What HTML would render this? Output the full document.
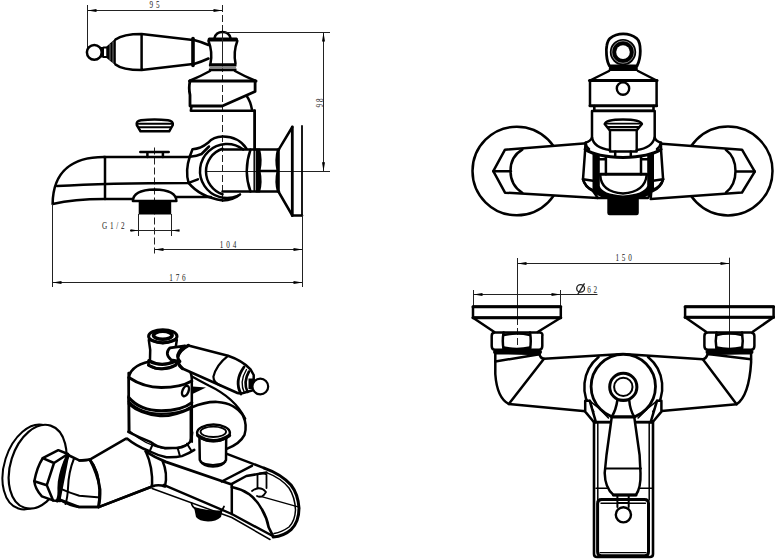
<!DOCTYPE html>
<html><head><meta charset="utf-8">
<style>
html,body{margin:0;padding:0;background:#fff;width:775px;height:559px;overflow:hidden}
svg{display:block;stroke-width:2.5px}
.t{fill:none;stroke:#000;stroke-linecap:round;stroke-linejoin:round}
.w{fill:#fff;stroke:#000;stroke-linecap:round;stroke-linejoin:round}
.m{fill:none;stroke:#000;stroke-linecap:round;stroke-linejoin:round}
.d{fill:none;stroke:#222;stroke-width:1}
.c{fill:none;stroke:#222;stroke-width:1;stroke-dasharray:7 3}
.f{fill:#000;stroke:none}
text{font-family:"Liberation Serif",serif;font-size:10px;fill:#1a1a1a}
</style></head><body>
<svg width="775" height="559" viewBox="0 0 775 559">
<!-- ================= TOP LEFT: side view ================= -->
<g id="tl">
  <!-- dimension 95 -->
  <line class="d" x1="87.5" y1="5" x2="87.5" y2="48"/>
  <line class="d" x1="87.5" y1="10.5" x2="222.5" y2="10.5"/>
  <path class="f" d="M87.5,10.5 l9,-1.5 v3 z M222.5,10.5 l-9,-1.5 v3 z"/>
  <text transform="translate(149.5,8.2) scale(0.72,1)" font-size="11.3" letter-spacing="4">95</text>
  <!-- centre lines -->
  <line class="c" x1="222.5" y1="5" x2="222.5" y2="204.5"/>
  <line class="c" x1="154.5" y1="147.5" x2="154.5" y2="253.5"/>
  <!-- tl handle -->
  <circle class="t" stroke-width="2.5" cx="94.3" cy="52.3" r="7.4"/>
  <path class="f" d="M101,47 H104 V57.5 H101 Z"/>
  <path class="t" stroke-width="2" d="M103.5,47.5 H107.5 V57 H103.5"/>
  <path class="f" d="M106.5,46.5 L115.8,38.2 V65.6 L106.5,58 Z"/>
  <path stroke="#999" stroke-width="0.8" d="M110,44 V60.5 M113,41.5 V63"/>
  <path class="t" d="M115.5,39.5 C121,35.5 130,34 141.6,34 L193,40 M115.5,64.5 C121,69 130,70 141.6,70 L193,64 M141.6,34 V70"/>
  <path class="t" stroke-width="3.6" d="M193,38.5 V65.5"/>
  <path class="t" d="M194,40 Q202,42 208.5,45 M194,64 Q202,61.5 208.5,58.5"/>
  <!-- tl cap -->
  <path class="t" d="M214.5,38 Q216,32 222.5,32 Q229,32 230.5,38"/>
  <path class="f" d="M209,37.4 H236.6 Q238.2,37.6 238,39.5 L237.6,41.6 H208 L207.6,39.5 Q207.6,37.6 209,37.4 Z"/>
  <path class="t" d="M208.5,41 Q212.8,52 210.5,63.5 M237.3,41 Q233.2,52 235.5,63.5"/>
  <line stroke="#222" stroke-width="1" x1="222.5" y1="32" x2="222.5" y2="64"/>
  <path class="f" d="M209.5,63.2 H235.8 Q237,64.5 236.4,66.4 H209 Q208.4,64.5 209.5,63.2 Z M209,68.4 H236.4 Q237,70 235.8,71.3 H209.5 Q208.4,70 209,68.4 Z"/>
  <path fill="#888" d="M209.5,66.4 H236 V68.4 H209.5 Z"/>
  <path class="t" d="M210,71 Q200,76.5 190.4,80.5 M235,71 Q245,76.5 254.7,80.5"/>
  <path class="t" stroke-width="3" d="M189.5,81 H256"/>
  <path class="t" stroke-width="2.8" d="M190,81 Q188.5,88 190,95 V106 H222.3 L255.1,91.5 V81"/>
  <path class="t" d="M246.7,95.9 Q250.5,101 252,109.8"/>
  <path class="t" d="M191.5,106.5 L190.8,110.7 H254.6"/>
  <path class="t" stroke-width="2.8" d="M254.6,110.7 V149.5"/>
  <!-- diverter button -->
  <path class="t" d="M140.5,131.3 L136.8,125 Q135.8,121 141,120.2 Q154.5,118.6 168,120.2 Q173.6,121 172.8,125 L169.2,131.3 Z"/>
  <path class="t" stroke-width="2" d="M137.5,123.8 H172 M138.8,127.3 H170.5"/>
  <!-- 98 dimension -->
  <line class="d" x1="225" y1="32.5" x2="330" y2="32.5"/>
  <line class="d" x1="323.5" y1="32.5" x2="323.5" y2="171.5"/>
  <path class="f" d="M323.5,32.5 l-1.5,9 h3 z M323.5,171.3 l-1.5,-9 h3 z"/>
  <text transform="translate(322.8,107.5) rotate(-90) scale(0.72,1)" font-size="13.5" letter-spacing="2.5">98</text>
  <line class="d" x1="205" y1="171.5" x2="330" y2="171.5"/>
  <!-- tl spout -->
  <path class="t" d="M104,157 H190"/>
  <path class="t" d="M104,157 C74,157 53,170 52.6,204 C70,200 85,199 104,199 H133"/>
  <path class="t" d="M105,157 V199"/>
  <path class="t" d="M57,186 C90,184 140,183 188.6,182.9 L197.9,179.3"/>
  <path class="t" d="M176.4,197 H211"/>
  <path class="t" d="M140.3,152 H168.7 M147.4,152 V157 M162.9,152 V157"/>
  <!-- nut under spout -->
  <path class="t" d="M132.9,201 Q133,190 154.6,189.4 Q176.4,190 176.4,201 Z"/>
  <rect class="f" x="138.7" y="201" width="32.5" height="13.5"/>
  <!-- tl elbow -->
  <path class="t" d="M246.5,148.6 C240,139 230,136.5 222.5,136.6 C215,136.7 211,139.5 208,142.8 C203,147 197,149 192.5,149.2 L189.8,156.5"/>
  <path class="t" d="M190,156.8 Q197,156 201.5,154 L209,146.5"/>
  <path class="t" d="M189.8,156.5 Q185,171 188.6,182.9"/>
  <path class="t" d="M243.2,149.4 A27,27 0 1 0 237.7,195.8"/>
  <path class="t" d="M222.5,148.7 A24,24 0 0 0 222.5,194.3"/>
  <path class="t" d="M188.6,182.9 Q200,197 222.9,200.5 Q233,200 240,194.4"/>
  <!-- tl pipe & nut -->
  <path class="t" d="M222.5,149.6 H279 M222.5,191.5 H279"/>
  <path class="t" d="M250.5,149.6 Q243,171 250.5,191.5"/>
  <path class="m" stroke-width="1.5" d="M254.2,150 V191"/>
  <path class="f" d="M255.6,148.6 H260 Q263,160 260.5,171 Q263,182 260,192.5 H255.6 Z"/>
  <path class="f" d="M279.8,148.6 H277 Q274,160 276.5,171 Q274,182 277,192.5 H279.8 Z"/>
  <path class="t" stroke-width="2.4" d="M258,171 H278"/>
  <!-- tl flange -->
  <path class="t" d="M278.7,149.6 L292.3,127 M292.3,215.5 L278.7,192"/>
  <path class="t" stroke-width="2.8" d="M292.3,127 V215.5"/>
  <path class="t" d="M292.3,215.5 H302"/>
  <path class="t" stroke-width="1.8" d="M302,126 V215.5"/>
  <line class="d" x1="302.5" y1="215" x2="302.5" y2="287"/>
  <!-- G1/2 -->
  <line class="d" x1="138.5" y1="214" x2="138.5" y2="236"/>
  <line class="d" x1="171.5" y1="214" x2="171.5" y2="236"/>
  <line class="d" x1="130" y1="230.5" x2="179.3" y2="230.5"/>
  <path class="f" d="M138.5,230.5 l-8,-1.3 v2.6 z M171.5,230.5 l8,-1.3 v2.6 z"/>
  <text transform="translate(102,229.3) scale(0.72,1)" font-size="11.3" letter-spacing="3.8">G1/2</text>
  <!-- 104 -->
  <line class="d" x1="154.5" y1="249.5" x2="302.5" y2="249.5"/>
  <path class="f" d="M154.5,249.5 l9,-1.5 v3 z M302.5,249.5 l-9,-1.5 v3 z"/>
  <text transform="translate(219.7,247.8) scale(0.72,1)" font-size="11.3" letter-spacing="4">104</text>
  <!-- 176 -->
  <line class="d" x1="52.5" y1="204" x2="52.5" y2="287"/>
  <line class="d" x1="52.5" y1="282.5" x2="302.5" y2="282.5"/>
  <path class="f" d="M52.5,282.5 l9,-1.5 v3 z M302.5,282.5 l-9,-1.5 v3 z"/>
  <text transform="translate(169.3,280.6) scale(0.72,1)" font-size="11.3" letter-spacing="3.8">176</text>
</g>
<!-- ================= TOP RIGHT: front view ================= -->
<g id="tr">
  <circle class="t" cx="516.8" cy="171" r="44.3"/>
  <circle class="t" cx="728" cy="171" r="44.5"/>
  <path class="w" d="M505,149.7 L586.7,143.3 L597.4,198 L505,192.7 L493.3,171.2 Z"/>
  <path class="w" d="M742,149.7 L655,143.3 L650.7,199 L742,192.5 L754.8,171.6 Z"/>
  <path class="t" d="M493.3,171.2 H511 M522.3,149.7 C513,155 510.5,163 510.5,171 C510.5,179 513,187 522.3,192.7"/>
  <path class="t" d="M735.5,171.6 H754.8 M725.8,149.7 C733,155 735.5,163 735.5,171 C735.5,179 733,187 726,192.5"/>
  <!-- knob -->
  <path class="w" stroke-width="2.8" d="M609.5,66 C606,60 606,49 606.8,45.5 C607.6,41.5 608.5,39.5 610,38.3 C614.5,34.6 618.5,33.8 623.2,33.8 C628,33.8 632,34.6 636.6,38.3 C639,40.5 640.3,46 640.3,51 C640.3,58 639,62 637,66 Z"/>
  <circle class="f" cx="623" cy="52.1" r="13.2"/>
  <circle fill="none" stroke="#bbb" stroke-width="0.7" cx="623" cy="52.1" r="11.2"/>
  <circle fill="#fff" cx="623" cy="52.1" r="6.8"/>
  <path class="f" d="M609.3,65 H637.4 L638,71 H608.6 Z"/>
  <path class="t" d="M609,71 L590,80.5 M638,71 L656.6,80.5"/>
  <path class="t" stroke-width="3" d="M589.5,80.5 H657"/>
  <path class="t" d="M590,80.5 V105.8 M656.6,80.5 V105.8"/>
  <path class="t" stroke-width="3" d="M590,105.8 H656.6"/>
  <circle class="t" stroke-width="2.4" cx="623" cy="88.6" r="6.2"/>
  <path class="t" stroke-width="2.6" d="M594.3,106 V110.8 H653.5 V106"/>
  <!-- body -->
  <path class="w" d="M592,111 V137.5 Q591,141 585.5,142.7 L585.2,149.3 L583,179.3 Q585,187 592.3,190 L598,198 H648 L652.4,190 Q661,187 663.1,179.3 L661,149.3 L661,142.7 Q655.5,141 654.7,137.5 V111 Z"/>
  <path class="t" d="M592,137.5 Q594,148 610,150 M636.7,150 Q652,148 654.7,137.5"/>
  <path class="t" d="M585.5,142.7 Q586,147 589,149 M661,142.7 Q660,147 657,149"/>
  <path class="t" stroke-width="3.2" d="M585.2,149.3 Q596,157 623,157.5 Q650,157 661,149.3"/>
  <path class="t" d="M583,179.3 L593,180.8 M663.1,179.3 L653,180.8"/>
  <path class="t" d="M583,179.3 Q585,187 593,191 M663.1,179.3 Q661,187 653,191"/>
  <path class="f" d="M592.5,152.5 Q596,154.5 599.8,155.5 V186 Q602,194 623,195.5 Q644,194 647.2,186 V155.5 Q650.5,154.5 654,152.5 V189 Q651,199.5 623,201 Q595.5,199.5 592.5,189 Z"/>
  <path class="t" d="M599.5,159.3 H606 M641,159.3 H647.5 M605.9,157 V174.3 M641,157 V174.3"/>
  <path class="t" stroke-width="3" d="M600.2,174.3 H646.7"/>
  <path class="t" d="M600.2,175 Q601,192 623,193.5 Q645,192 646.7,175"/>
  <path class="t" d="M604.7,124 Q606,119.5 623,119.5 Q640,119.5 641.9,124 L637,130 H609.5 Z"/>
  <path class="t" stroke-width="1.8" d="M606,123.6 H640.5 M607.5,127 H639"/>
  <path class="t" stroke-width="2.4" d="M610,130 V151.5 H636.7 V130"/>
  <path class="t" d="M615.2,151.5 V156 M630.8,151.5 V156"/>
  <path class="f" d="M607.3,199 H638.8 V213 Q638.8,215.3 636.5,215.3 H609.6 Q607.3,215.3 607.3,213 Z"/>
</g>
<!-- ================= BOTTOM RIGHT: top view ================= -->
<g id="br">
  <line class="d" x1="517.5" y1="258" x2="517.5" y2="318"/>
  <line class="c" x1="517.5" y1="318" x2="517.5" y2="367"/>
  <line class="d" x1="729.5" y1="257.7" x2="729.5" y2="367"/>
  <line class="d" x1="517.5" y1="263.5" x2="729.5" y2="263.5"/>
  <path class="f" d="M517.5,263.5 l9,-1.5 v3 z M729.5,263.5 l-9,-1.5 v3 z"/>
  <text transform="translate(615.5,261.2) scale(0.72,1)" font-size="11.3" letter-spacing="3.8">150</text>
  <!-- phi 62 -->
  <line class="d" x1="473.5" y1="290" x2="473.5" y2="307"/>
  <line class="d" x1="560.5" y1="290" x2="560.5" y2="307"/>
  <line class="d" x1="473.5" y1="294.5" x2="597.5" y2="294.5"/>
  <path class="f" d="M473.5,294.5 l9,-1.5 v3 z M560.5,294.5 l-9,-1.5 v3 z"/>
  <ellipse fill="none" stroke="#222" stroke-width="1.3" cx="580.6" cy="288.4" rx="3.9" ry="3.7"/>
  <line stroke="#222" stroke-width="1.3" x1="577.9" y1="294.2" x2="584.5" y2="283.4"/>
  <text transform="translate(587.3,293.2) scale(0.72,1)" font-size="10.8" letter-spacing="3.5">62</text>
  <!-- left flange -->
  <rect class="t" x="473" y="306.8" width="87.8" height="10.9"/>
  <path class="t" stroke-width="3" d="M473,306.8 H560.8 M473,317.7 H560.8"/>
  <path class="t" d="M473,317.7 L494.3,332 M560.8,317.7 L537.7,332"/>
  <path class="t" d="M494,332.6 H540 Q543,333 542.3,336 V346 Q542.3,349.8 539,349.8 H495 Q491.7,349.8 491.7,346 V336 Q491.7,332.6 495,332.6 Z"/>
  <path class="t" d="M503.6,332.6 Q502,341 503.6,349.8 M530,332.6 Q531.5,341 530,349.8"/>
  <path class="t" d="M503.6,335 Q517,332 530,335 M503.6,347.5 Q517,350.5 530,347.5"/>
  <path class="t" stroke-width="4" d="M495,352 H540"/>
  <!-- right flange -->
  <rect class="t" x="685.1" y="306.8" width="88.5" height="10.5"/>
  <path class="t" stroke-width="3" d="M685.1,306.8 H773.6 M685.1,317.3 H773.6"/>
  <path class="t" d="M685.1,317.3 L706,331.8 M773.6,317.3 L752.8,331.8"/>
  <path class="t" d="M708,332.6 H751 Q754.4,333 754.4,336 V346 Q754.4,349.8 751,349.8 H708 Q704.4,349.8 704.4,346 V336 Q704.4,332.6 708,332.6 Z"/>
  <path class="t" d="M716.5,332.6 Q715,341 716.5,349.8 M742,332.6 Q743.5,341 742,349.8"/>
  <path class="t" d="M716.5,335 Q729,332 742,335 M716.5,347.5 Q729,350.5 742,347.5"/>
  <path class="t" stroke-width="4" d="M707.5,352 H751.5"/>
  <!-- body arms -->
  <path class="w" d="M495.3,353 V374 Q497,398 508.8,404 L585.6,411.2 L590,400.8 L595,422 H652 L657,400.8 L661.5,411 L736.6,404.3 Q749,396 751.1,362.4 V353 L707.7,354 Q706,359 702.8,359.2 L623,354 L544,358.8 Q540,358 539.5,354 Z"/>
  <path class="t" d="M495.3,361.5 L539.5,354.3 M544,358.8 L508.8,404"/>
  <path class="t" d="M707.7,354 L751,359.2 M702.8,359.2 L736.6,404.3"/>
  <!-- centre disc -->
  <path class="t" stroke-width="2.6" d="M594,422.3 V554 Q594,557 597,557 H650 Q653,557 653,554 V422.3"/>
  <path class="t" stroke-width="1.5" d="M597.8,422.3 V500 M649.2,422.3 V500"/>
  <path class="t" stroke-width="1.6" d="M595,422.8 H611 M636,422.8 H652"/>
  <path class="t" stroke-width="1.6" d="M596,488.3 H608 M640,488.3 H652"/>
  <circle class="w" stroke-width="2.8" cx="623.3" cy="386.5" r="32.2"/>
  <path class="t" d="M593.3,411.6 A38.5,38.5 0 0 1 598.6,357 M648,357 A38.5,38.5 0 0 1 653.3,411.6" />
  <path class="w" d="M585.2,411.6 V400.8 H589.7 L596,422.3 H594 Z M661.4,411.6 V400.8 H657 L650.6,422.3 H652.6 Z"/>
  <path class="t" stroke-width="1.6" d="M589.7,400.8 Q600,408 608.5,418 M657,400.8 Q647,408 638.1,418"/>
  <!-- lever -->
  <path class="w" d="M617.4,400 Q616,410 611.8,416.6 L606.5,455 L604.7,473 Q605,488 613.4,494.9 H635.9 Q641,488 640.5,473 L639.6,455 L634.2,416.6 Q630,410 629.2,400 Z"/>
  <path class="t" stroke-width="3.2" d="M611.8,416.8 H634.2"/>
  <path class="t" stroke-width="1.8" d="M605,468.5 H641"/>
  <path class="t" stroke-width="3.2" d="M613.4,495 H635.9"/>
  <circle class="t" stroke-width="3" cx="623.3" cy="386.9" r="13.6"/>
  <circle class="t" stroke-width="2" cx="623.3" cy="386.9" r="9.2"/>
  <!-- box -->
  <path class="w" stroke-width="3" d="M601.5,499.6 H644.5 Q648.5,499.6 648.5,503.6 V551.8 Q648.5,555.8 644.5,555.8 H601.5 Q597.6,555.8 597.6,551.8 V503.6 Q597.6,499.6 601.5,499.6 Z"/>
  <path class="m" stroke-width="1.4" d="M601,503.3 H645.5 M600.2,552.6 H646"/>
  <path class="t" stroke-width="2" d="M617.4,495 V507 M628.7,495 V507 M617.4,502.9 H628.7"/>
  <circle class="w" stroke-width="2.4" cx="623.4" cy="514.8" r="7.6"/>
</g>
<!-- ================= BOTTOM LEFT: perspective ================= -->
<g id="bl">
  <!-- wall flange -->
  <ellipse class="w" stroke-width="2" cx="31.6" cy="467" rx="27.3" ry="43.6" transform="rotate(17.6 31.6 467)"/>
  <ellipse class="w" stroke-width="2.2" cx="37.6" cy="466.7" rx="27.1" ry="43.1" transform="rotate(17.6 37.6 466.7)"/>
  <!-- pipe nut->elbow -->
  <path class="w" d="M68,455 L79.3,460.4 L89.8,459.6 Q97,473 100.2,489.4 L98.6,507.1 L79,507 L59.4,499.5 Z"/>
  <path class="t" stroke-width="2" d="M58.5,487.9 Q70,493 79.3,495.8 L100.2,497.4"/>
  <!-- nut -->
  <path class="w" d="M42.7,458.2 L58.3,450.2 L67.9,454 Q61,468 59,482 Q58,494 60,501 L53.1,500.4 L41.9,496.4 Q35,489 34.3,481.2 Q37,467 42.7,458.2 Z"/>
  <path class="t" d="M42.7,458.2 L54,463 L67.9,454 M54,463 L46.8,485.2 L34.3,481.2 M46.8,485.2 L53.1,500.4"/>
  <path class="t" stroke-width="3" d="M68.5,455 Q61,470 60,486 Q59.5,496 57,501"/>
  <path class="t" stroke-width="2" d="M74,458.5 Q68.5,472 68,488 Q67.5,498 65.5,504"/>
  <!-- elbow -->
  <path class="w" d="M89.8,459.6 L126,438.7 L140,447.5 L152.1,486.5 L98.6,507.1 Q101,489 97,473.3 Q94,465 89.8,459.6 Z"/>
  <path class="t" d="M79.3,460.4 Q85,461 89.8,459.6 Q97,468 100.2,489.4 Q100.5,500 98.6,507.1"/>
  <path class="t" d="M59.4,499.5 Q70,506 79,507 L98.6,507.1 L152.1,486.5"/>
  <!-- body cylinder -->
  <path class="w" d="M128.6,373 L129.3,431.5 Q145,446 165,449.5 Q182,449 190.8,442.5 V378 Z"/>
  <path class="t" d="M128.8,396 V431.5 M191.8,394 V442.5"/>
  <!-- spout (incl. second joint) -->
  <path fill="#fff" stroke="none" d="M126,438.7 L129.3,431.5 Q145,446 165,449.5 Q182,449 190.8,442.5 L199,444 L226.2,453.6 L264.2,468.1 Q290,478 297.8,496.1 Q301,514 291.1,529.6 Q284,536 273.2,537 L231.8,517 L152.1,488 Z"/>
  <path class="t" d="M128.3,431.9 Q140,438 151,442.2 Q157,447 165,447.9 H177.8 Q186,447 190.2,441.7 Q192,438 192.2,432.4"/>
  <path class="t" d="M127,438.5 Q136,446 148.9,451 Q158,455.5 166.4,457.2 Q176,457.5 181.9,456.1 Q189,453.5 194.3,449.9"/>
  <path class="t" stroke-width="2" d="M153,443.7 L150,450.5 M177.8,448.4 L179.9,456 M187,443.7 L191.2,450.5"/>
  <path class="t" d="M145.7,451.3 Q153,467 152.1,486.5 M162.5,460.8 Q168,473.6 165,486.5 M152.1,486.5 Q158,484 165,486.5"/>
  <path class="t" d="M226.2,453.6 L264.2,468.1"/>
  <path class="t" stroke-width="2.8" d="M145.8,451.6 Q155,457.5 165.8,461.9 L231.8,484.5"/>
  <path class="t" stroke-width="2.4" d="M163.6,484.9 L231.8,514 L273.2,536.3"/>
  <path class="t" stroke-width="1.5" d="M152.1,488.5 L231.8,517.5 L270,539.5"/>
  <path class="t" d="M221.7,481.5 L251.9,465.9 M231.8,483.8 L246.3,476 L266.5,472.6 M231.8,483.8 V514"/>
  <path class="t" stroke-width="3" d="M264.2,468.1 Q281,474 291,485 Q298,494 299,508 Q299,522 291.1,529.6 Q284,536 273.2,537"/>
  <path class="t" stroke-width="1.5" d="M266.5,472.6 Q281,478 289,488 Q295,497 295.5,510 Q295,521 289,527 Q282,532 274,533.5"/>
  <path class="t" stroke-width="2.6" d="M231.8,487.1 Q241,489 248.6,493.8 Q257,500 262,509.5 Q267,518 268.7,527.4 L273.2,536.3"/>
  <path class="t" stroke-width="1.4" d="M259.8,496.1 L299,507.2"/>
  <path class="t" stroke-width="1.8" d="M257.5,488 V474.5 Q262,472 266.5,474.5 V488 M252,491 Q260,485 266,492 Q262,499 257,496"/>
  <!-- nut under spout -->
  <path class="f" d="M194,507 Q207,511 222.5,510.5 L221,517 Q216,521.5 208,521.5 Q199,521 196,517 Z"/>
  <path class="t" stroke-width="1.8" d="M191.5,503 Q192,507 196,509 M224,506.5 Q223,509 221,511"/>
  <!-- dome band -->
  <path class="w" d="M128.8,381 Q128,366 150,361.5 L176,361.5 Q191.5,366 191.8,379 L191.8,408 Q172,417 160,416 Q140,414 128.8,404 Z"/>
  <path class="t" stroke-width="3" d="M128.8,377.5 C140,385 150,387.5 161.3,387.5 C175,387.5 185,385 191.8,381"/>
  <path class="t" stroke-width="3" d="M128.8,397.5 C136,406 148,410.7 161.3,410.7 C175,410.7 185,408 191.8,402.6"/>
  <path class="t" stroke-width="2.2" d="M128.8,401.5 C137,410 149,413.8 161.3,413.8 C175,413.8 185,411.5 191.8,406.5"/>
  <ellipse class="t" cx="185.5" cy="391" rx="3" ry="5.5" transform="rotate(22 185.5 391)"/>
  <path class="f" d="M192.5,386.5 L206,387.5 L192.5,394 Z"/>
  <!-- loop -->
  <path class="t" d="M191.4,407.5 Q205,401.5 217.2,401.9 Q235,403 243,415.6 Q247.5,425 244.5,434.9 Q240,444 226.2,449.1"/>
  <path class="t" stroke-width="2.2" d="M192,376.5 Q200,381 208.7,385.5 Q235,398 245.3,418.8"/>
  <!-- diverter -->
  <path class="w" d="M199.4,436 L199.8,460 Q203,466.5 213,466.5 Q223,466.5 226,460 L226.2,436 Z"/>
  <path class="t" stroke-width="1.8" d="M200.5,462 Q213,468 225.5,462"/>
  <ellipse class="w" cx="213.5" cy="432.8" rx="16.4" ry="8.2"/>
  <ellipse class="t" stroke-width="1.8" cx="213.3" cy="431.8" rx="12.8" ry="5.2"/>
  <path class="t" stroke-width="3.4" d="M197.8,435.5 Q213,446 229.5,435.5"/>
  <!-- cap column -->
  <path class="w" d="M148.8,340 Q151,350 150,359.5 Q148,362 148.5,365 Q160,373 175.8,365 Q176.5,362 175.5,359.5 Q174.5,350 176.8,340 Z"/>
  <path class="t" stroke-width="3.3" d="M148.8,360.8 Q162,368 175.8,360.8"/>
  <path class="t" stroke-width="3" d="M148.5,365.2 Q162,372.5 175.8,365.2"/>
  <ellipse class="w" stroke-width="3" cx="162.8" cy="336.3" rx="14.2" ry="6.6"/>
  <ellipse class="t" stroke-width="3.6" cx="162.8" cy="335.3" rx="9.3" ry="4"/>
  <path class="t" stroke-width="3" d="M150,339.5 Q163,346 175.5,339.5"/>
  <!-- bl handle -->
  <path class="w" d="M188.3,345.5 L228,355.8 Q242,360.5 250.5,369.3 L253.7,375 V390 L243,393 Q239,393.5 237.5,393 L182.4,368.5 Q177,364.5 177.6,357.2 Q179.5,350 188.3,345.5 Z"/>
  <path class="t" stroke-width="3.4" d="M188.3,345.5 Q179.5,350 177.6,357.2 Q177,364.5 182.4,368.5"/>
  <path class="t" stroke-width="2.2" d="M228,355.8 Q216,365 213.4,376.8 Q213.5,383 220.5,385.5"/>
  <path class="t" stroke-width="2.8" d="M244,367 Q234,381 241,394"/>
  <path class="t" stroke-width="1.4" d="M246.5,369.5 Q239,382 244.5,393"/>
  <path class="t" stroke-width="2.6" d="M249,371.5 Q243,382 247.5,392"/>
  <path class="f" d="M248.5,378.5 H254 V389 H248.5 Z"/>
  <circle class="w" stroke-width="2.2" cx="260.3" cy="386.5" r="7.9"/>
  <!-- stub -->
  <path class="w" stroke-width="2.8" d="M185.1,345.8 L170,347.8 Q164,353.8 171.3,360 L180,361.5 Q177,358 177.6,355 Q180,348.5 185.1,345.8 Z"/>
</g>
</svg>
</body></html>
